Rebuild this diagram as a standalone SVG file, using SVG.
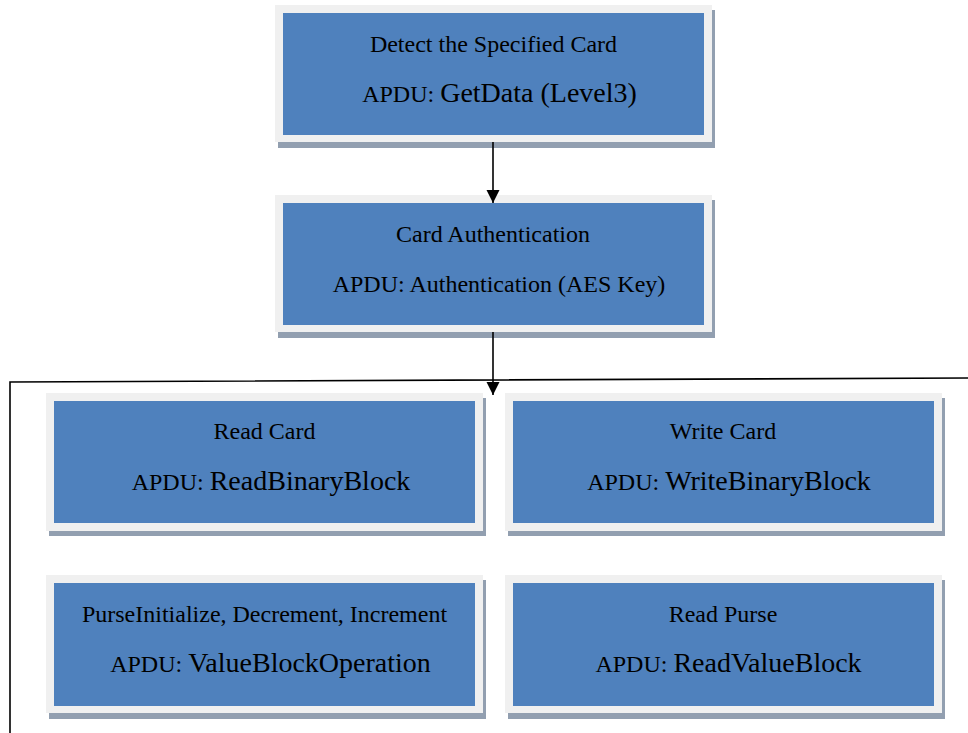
<svg xmlns="http://www.w3.org/2000/svg" width="968" height="733" viewBox="0 0 968 733">
<style>
.sh{fill:#929fb0}
.fr{fill:#f0f0f0}
.bl{fill:#4f81bd}
text{font-family:"Liberation Serif","Times New Roman",serif;fill:#000;text-anchor:middle;font-size:24px}
.big{font-size:28px}
.ln{stroke:#000;stroke-width:1.6;fill:none}
</style>
<defs>
<marker id="ah" markerWidth="14" markerHeight="14" refX="13" refY="6.5" orient="auto" markerUnits="userSpaceOnUse">
<path d="M0,0 L13,6.5 L0,13 Z" fill="#000"/>
</marker>
</defs>
<rect width="968" height="733" fill="#fff"/>
<g id="detect">
<rect class="sh" x="278" y="10" width="437" height="138"/>
<rect class="fr" x="275" y="5" width="437" height="137"/>
<rect class="bl" x="283" y="13" width="421" height="122"/>
<text x="493.5" y="52">Detect the Specified Card</text>
<text x="499.5" y="102">APDU: <tspan class="big">GetData (Level3)</tspan></text>
</g>
<g id="auth">
<rect class="sh" x="278" y="200" width="437" height="138"/>
<rect class="fr" x="275" y="195" width="437" height="137"/>
<rect class="bl" x="283" y="203" width="421" height="122"/>
<text x="493" y="242">Card Authentication</text>
<text x="499" y="292">APDU: Authentication (AES Key)</text>
</g>
<g id="readcard">
<rect class="sh" x="49" y="398" width="437" height="138"/>
<rect class="fr" x="46" y="393" width="437" height="138"/>
<rect class="bl" x="54" y="401" width="421" height="122"/>
<text x="264.5" y="439">Read Card</text>
<text x="271" y="490">APDU: <tspan class="big">ReadBinaryBlock</tspan></text>
</g>
<g id="writecard">
<rect class="sh" x="508" y="398" width="437" height="138"/>
<rect class="fr" x="505" y="393" width="437" height="138"/>
<rect class="bl" x="513" y="401" width="421" height="122"/>
<text x="723" y="439">Write Card</text>
<text x="729" y="490">APDU: <tspan class="big">WriteBinaryBlock</tspan></text>
</g>
<g id="purseop">
<rect class="sh" x="49" y="580" width="437" height="139"/>
<rect class="fr" x="46" y="575" width="437" height="138"/>
<rect class="bl" x="54" y="583" width="421" height="123"/>
<text x="264.5" y="622">PurseInitialize, Decrement, Increment</text>
<text x="270.5" y="672">APDU: <tspan class="big">ValueBlockOperation</tspan></text>
</g>
<g id="readpurse">
<rect class="sh" x="508" y="580" width="437" height="139"/>
<rect class="fr" x="505" y="575" width="437" height="138"/>
<rect class="bl" x="513" y="583" width="421" height="123"/>
<text x="723" y="622">Read Purse</text>
<text x="728.5" y="672">APDU: <tspan class="big">ReadValueBlock</tspan></text>
</g>
<g id="connectors">
<line class="ln" x1="493" y1="142" x2="493" y2="203" marker-end="url(#ah)"/>
<line class="ln" x1="493" y1="332" x2="493" y2="395" marker-end="url(#ah)"/>
<path class="ln" d="M10,733 L10,382 L968,378"/>
</g>
</svg>
